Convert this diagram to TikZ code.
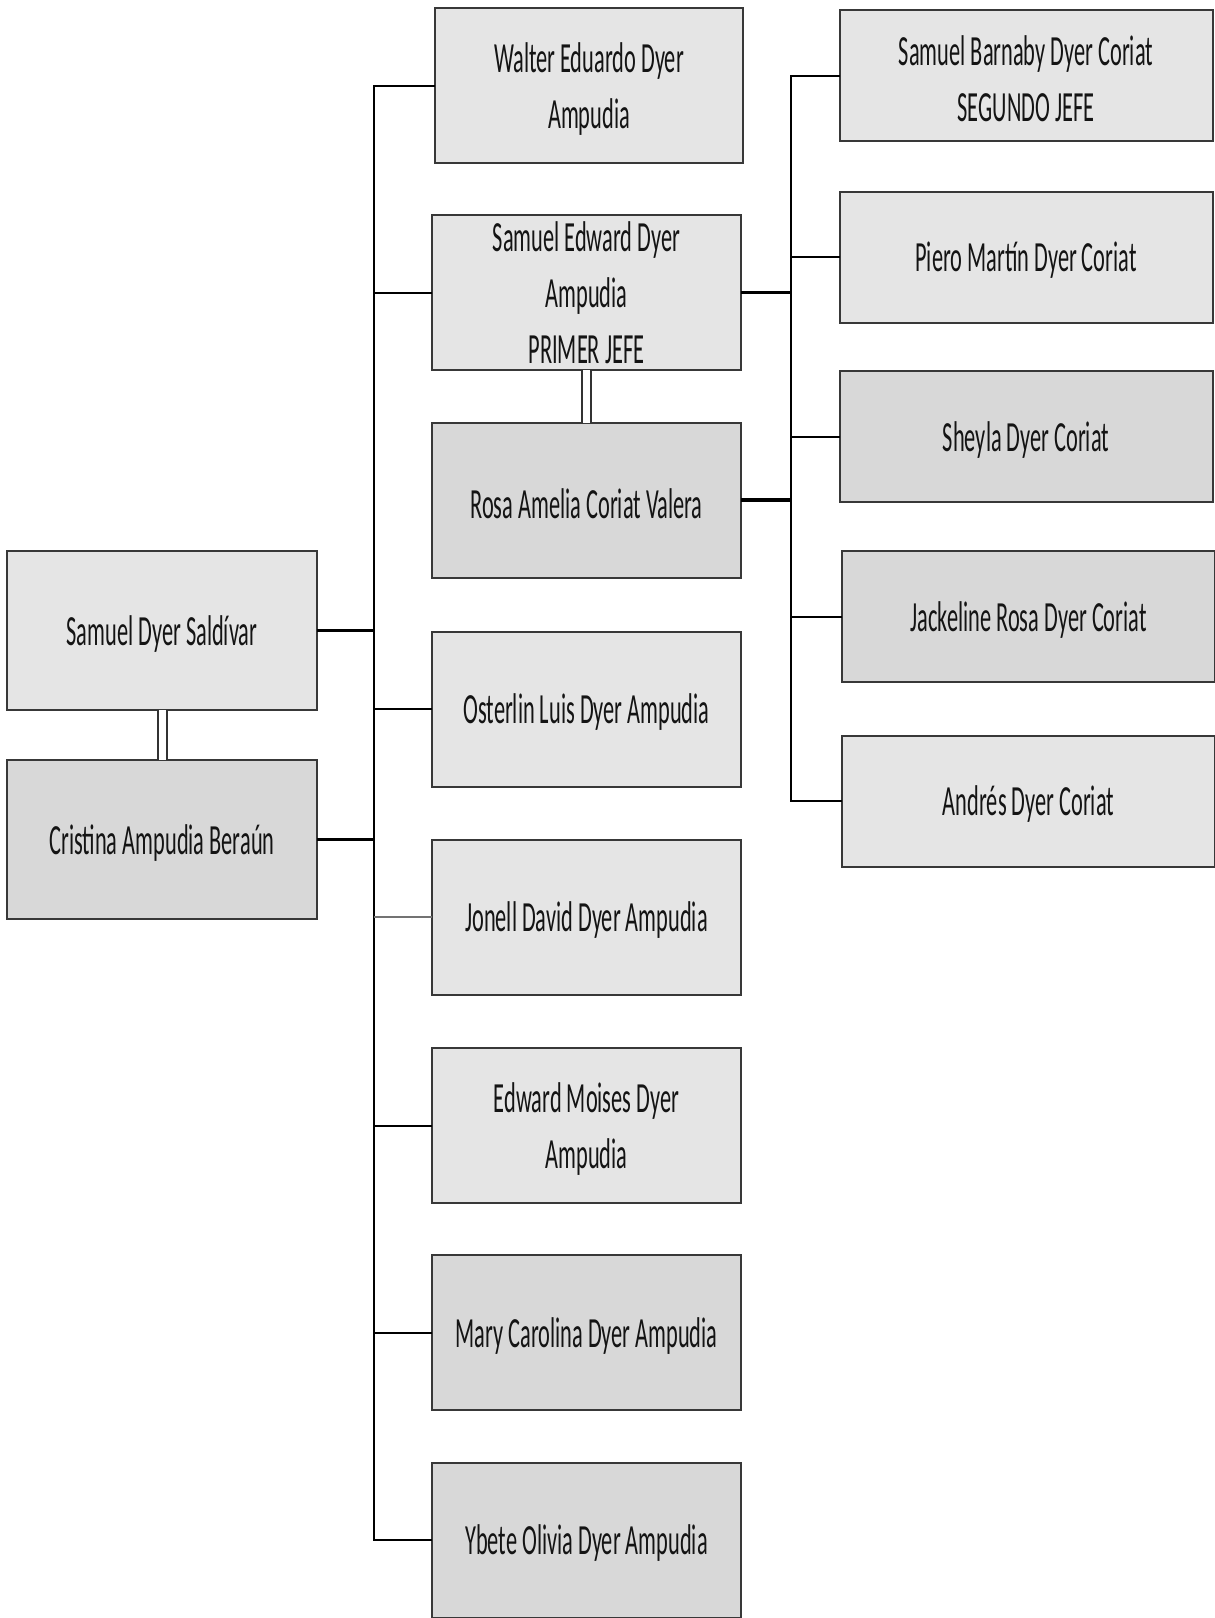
\documentclass[tikz,border=0pt]{standalone}
\usepackage{fontspec}
\newfontfamily\boxfont[FakeStretch=0.52]{Carlito}
\begin{document}
\begin{tikzpicture}[x=1pt,y=-1pt,
  nametext/.style={align=center, text=black!92, inner sep=0pt, yshift=-3.5pt,
    font=\boxfont\fontsize{43}{56}\selectfont},
  who/.style={label={[nametext]center:{#1}}},
  whotall/.style={label={[nametext, yshift=3.5pt]center:{#1}}},
  person/.style={rectangle, draw=black!78, line width=2pt, inner sep=0pt, outer sep=0pt},
  lightbox/.style={person, fill=boxlight},
  darkbox/.style={person, fill=boxdark},
  wide/.style={minimum width=309pt, minimum height=155pt},
  narrow/.style={minimum width=373pt, minimum height=131pt},
  branch/.style={draw=black, line width=2pt},
  faint/.style={draw=black!55, line width=1.5pt},
  parentlink/.style={draw=black, line width=3.5pt},
  couple/.style={draw=black!80, line width=2pt, double=white, double distance=7pt}]
\definecolor{boxlight}{HTML}{E5E5E5}
\definecolor{boxdark}{HTML}{D8D8D8}
\useasboundingbox[fill=white] (0,0) rectangle (1215,1618);

% parents
\node[lightbox, minimum width=310pt, minimum height=159pt, who={Samuel Dyer Saldívar}] (sds) at (162,630.5) {};
\node[darkbox, minimum width=310pt, minimum height=159pt, who={Cristina Ampudia Beraún}] (cab) at (162,839.5) {};

% children
\node[lightbox, minimum width=308pt, minimum height=155pt, who={Walter Eduardo Dyer\\Ampudia}] (walter) at (589,85.5) {};
\node[lightbox, wide, whotall={Samuel Edward  Dyer\\Ampudia\\PRIMER JEFE}] (sed) at (586.5,292.5) {};
\node[darkbox, wide, who={Rosa Amelia Coriat Valera}] (rosa) at (586.5,500) {};
\node[lightbox, wide, who={Osterlin Luis Dyer Ampudia}] (osterlin) at (586.5,709) {};
\node[lightbox, wide, who={Jonell David Dyer Ampudia}] (jonell) at (586.5,917) {};
\node[lightbox, wide, who={Edward Moises Dyer\\Ampudia}] (edmo) at (586.5,1125.5) {};
\node[darkbox, wide, who={Mary Carolina Dyer Ampudia}] (mary) at (586.5,1332.5) {};
\node[darkbox, wide, who={Ybete Olivia Dyer Ampudia}] (ybete) at (586.5,1540) {};

% grandchildren
\node[lightbox, narrow, who={Samuel Barnaby Dyer Coriat\\SEGUNDO JEFE}] (barnaby) at (1026,75.5) {};
\node[lightbox, narrow, who={Piero Martín Dyer Coriat}] (piero) at (1026,257) {};
\node[darkbox, narrow, who={Sheyla Dyer Coriat}] (sheyla) at (1026,436.5) {};
\node[darkbox, narrow, who={Jackeline Rosa Dyer Coriat}] (jack) at (1028.5,616.5) {};
\node[lightbox, narrow, who={Andrés Dyer Coriat}] (andres) at (1028.5,801) {};

% spines
\coordinate (lsp) at (374,0);
\coordinate (rsp) at (791,0);

% marriages
\draw[couple] (sds.south) -- (cab.north);
\draw[couple] (sed.south) -- (rosa.north);

% first generation
\draw[branch] (walter.west) -- (walter.west -| lsp) -- (ybete.west -| lsp) -- (ybete.west);
\draw[branch] (sed.west) -- (sed.west -| lsp);
\draw[branch] (osterlin.west) -- (osterlin.west -| lsp);
\draw[faint] (jonell.west) -- (jonell.west -| lsp);
\draw[branch] (edmo.west) -- (edmo.west -| lsp);
\draw[branch] (mary.west) -- (mary.west -| lsp);
\draw[parentlink] (sds.east) -- (sds.east -| lsp);
\draw[parentlink] (cab.east) -- (cab.east -| lsp);

% second generation
\draw[branch] (barnaby.west) -- (barnaby.west -| rsp) -- (andres.west -| rsp) -- (andres.west);
\draw[branch] (piero.west) -- (piero.west -| rsp);
\draw[branch] (sheyla.west) -- (sheyla.west -| rsp);
\draw[branch] (jack.west) -- (jack.west -| rsp);
\draw[parentlink] (sed.east) -- (sed.east -| rsp);
\draw[parentlink] (rosa.east) -- (rosa.east -| rsp);
\end{tikzpicture}
\end{document}
